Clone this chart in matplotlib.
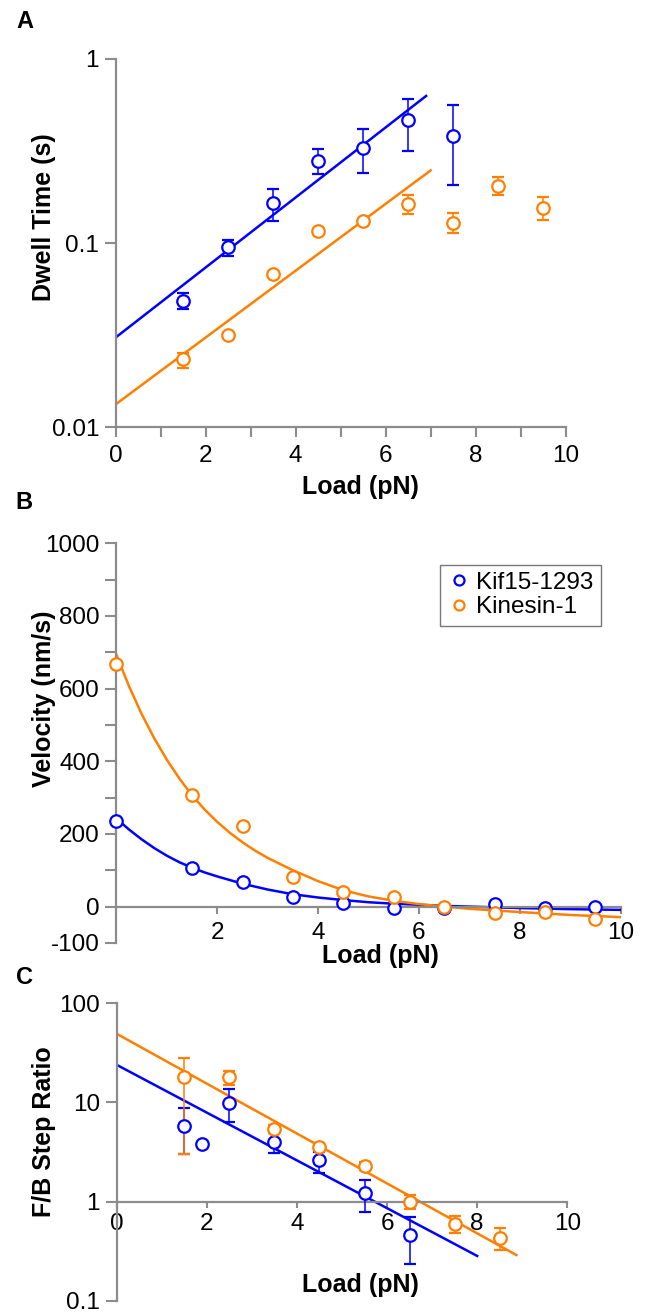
import numpy as np
import matplotlib
matplotlib.use("Agg")
import matplotlib.pyplot as plt
from matplotlib.ticker import FixedLocator, FuncFormatter, NullLocator

plt.rcParams["font.family"] = ["Liberation Sans", "DejaVu Sans"]

nan = np.nan
BLUE = "#0000ff"
ORANGE = "#ff7f00"
GREY = "#8c8c8c"

# --- A: dwell time vs load
kif15_load_a = [1.5, 2.5, 3.5, 4.5, 5.5, 6.5, 7.5]
kif15_dwell = [0.0487, 0.0949, 0.164, 0.279, 0.330, 0.466, 0.383]
kif15_dwell_lo = [0.0437, 0.0855, 0.1325, 0.238, 0.239, 0.318, 0.207]
kif15_dwell_hi = [0.0538, 0.104, 0.196, 0.324, 0.417, 0.607, 0.562]
kin1_load_a = [1.5, 2.5, 3.5, 4.5, 5.5, 6.5, 7.5, 8.5, 9.5]
kin1_dwell = [0.0233, 0.0317, 0.0677, 0.1164, 0.131, 0.1625, 0.129, 0.204, 0.155]
kin1_dwell_lo = [0.0210, nan, nan, nan, nan, 0.144, 0.113, 0.183, 0.134]
kin1_dwell_hi = [0.0252, nan, nan, nan, nan, 0.183, 0.145, 0.229, 0.178]
kif15_dwell_fit_x = [0, 6.9]
kif15_dwell_fit_y = [0.0307, 0.63]
kin1_dwell_fit_x = [0, 7.0]
kin1_dwell_fit_y = [0.0133, 0.248]

# --- B: velocity vs load
load_b = [0, 1.5, 2.5, 3.5, 4.5, 5.5, 6.5, 7.5, 8.5, 9.5]
kif15_vel = [237, 107, 69, 27.5, 11, -3, -3, 6, -4.5, -2]
kin1_vel = [667, 307, 222, 82.6, 41, 26, -2, -16.5, -15, -35]
vel_curve_x = [0, 0.25, 0.5, 0.75, 1, 1.25, 1.5, 1.75, 2, 2.25, 2.5, 2.75, 3,
               3.5, 4, 4.5, 5, 5.5, 6, 6.5, 7, 8, 9, 10]
kif15_vel_curve = [242, 212, 185, 161, 140, 122, 107, 94, 83, 73, 63, 55, 47,
                   34, 25, 18, 12, 8, 5, 2, 0, -4, -7, -9]
kin1_vel_curve = [693, 606, 530, 463, 404, 352, 306, 267, 233, 203, 177, 154, 134,
                  100, 70, 45, 28, 16, 7, 0, -6, -15, -23, -29]

# --- C: forward/backward step ratio vs load
kif15_load_c = [1.5, 1.9, 2.5, 3.5, 4.5, 5.5, 6.5]
kif15_ratio = [5.8, 3.77, 9.9, 4.0, 2.6, 1.23, 0.46]
kif15_ratio_lo = [3.0, nan, 6.3, 3.06, 1.94, 0.79, 0.233]
kif15_ratio_hi = [8.8, nan, 13.6, 4.9, 3.2, 1.66, 0.695]
kin1_load_c = [1.5, 2.5, 3.5, 4.5, 5.5, 6.5, 7.5, 8.5]
kin1_ratio = [18.2, 17.9, 5.46, 3.59, 2.29, 1.0, 0.60, 0.427]
kin1_ratio_lo = [3.0, 14.9, 4.9, 3.3, 2.07, 0.85, 0.48, 0.325]
kin1_ratio_hi = [27.8, 20.9, 5.95, 3.9, 2.52, 1.17, 0.717, 0.538]
kif15_ratio_fit_x = [0, 8.0]
kif15_ratio_fit_y = [24, 0.283]
kin1_ratio_fit_x = [0, 8.87]
kin1_ratio_fit_y = [49.4, 0.289]

FS = 17.5
LABEL_FS = 18


def style_axes(ax):
    for side in ("top", "right"):
        ax.spines[side].set_visible(False)
    for side in ("left", "bottom"):
        ax.spines[side].set_color(GREY)
        ax.spines[side].set_linewidth(1.6)
    ax.tick_params(which="both", direction="out", color=GREY, width=1.5,
                   labelsize=FS, pad=4)
    ax.tick_params(axis="y", which="both", length=8)


def points(ax, x, y, lo, hi, color):
    y = np.array(y, dtype=float)
    err = [y - np.array(lo, dtype=float), np.array(hi, dtype=float) - y]
    ax.errorbar(x, y, yerr=err, fmt="o", ms=9, mew=1.6, mfc="white", mec=color,
                ecolor=color, elinewidth=1.1, capsize=4.5, capthick=1.1,
                zorder=3, clip_on=False)


def plain(v, _pos):
    return f"{v:g}"


fig = plt.figure(figsize=(6.53, 13.14), dpi=100)

# A
ax = fig.add_axes([0.1773, 0.675, 0.6888, 0.2801])
style_axes(ax)
ax.set_yscale("log")
ax.plot(kif15_dwell_fit_x, kif15_dwell_fit_y, color=BLUE, lw=1.8, zorder=2)
ax.plot(kin1_dwell_fit_x, kin1_dwell_fit_y, color=ORANGE, lw=1.8, zorder=2)
points(ax, kif15_load_a, kif15_dwell, kif15_dwell_lo, kif15_dwell_hi, BLUE)
points(ax, kin1_load_a, kin1_dwell, kin1_dwell_lo, kin1_dwell_hi, ORANGE)
ax.set_xlim(0, 10)
ax.set_ylim(0.01, 1)
ax.xaxis.set_major_locator(FixedLocator([0, 2, 4, 6, 8, 10]))
ax.xaxis.set_minor_locator(FixedLocator([1, 3, 5, 7, 9]))
ax.tick_params(axis="x", which="both", length=7, pad=6)
ax.yaxis.set_major_locator(FixedLocator([0.01, 0.1, 1]))
ax.yaxis.set_minor_locator(NullLocator())
ax.yaxis.set_major_formatter(FuncFormatter(plain))
ax.set_xlabel("Load (pN)", fontsize=LABEL_FS, fontweight="bold", va="center")
ax.xaxis.set_label_coords(0.543, -0.162)
ax.set_ylabel("Dwell Time (s)", fontsize=LABEL_FS, fontweight="bold", va="center")
ax.yaxis.set_label_coords(-0.160, 0.571)

# B
ax = fig.add_axes([0.1784, 0.2824, 0.772, 0.3041])
style_axes(ax)
ax.spines["bottom"].set_position(("data", 0))
ax.plot(vel_curve_x, kif15_vel_curve, color=BLUE, lw=1.8, zorder=2, label="_nolegend_")
ax.plot(vel_curve_x, kin1_vel_curve, color=ORANGE, lw=1.8, zorder=2, label="_nolegend_")
ax.plot(load_b, kif15_vel, "o", ms=9, mew=1.6, mfc="white", mec=BLUE,
        zorder=3, clip_on=False, label="Kif15-1293")
ax.plot(load_b, kin1_vel, "o", ms=9, mew=1.6, mfc="white", mec=ORANGE,
        zorder=3, clip_on=False, label="Kinesin-1")
ax.set_xlim(0, 10)
ax.set_ylim(-100, 1000)
ax.xaxis.set_major_locator(FixedLocator([2, 4, 6, 8, 10]))
ax.tick_params(axis="x", length=5, pad=6)
ax.yaxis.set_major_locator(FixedLocator([-100, 0, 200, 400, 600, 800, 1000]))
ax.yaxis.set_minor_locator(FixedLocator([100, 300, 500, 700, 900]))
ax.yaxis.set_major_formatter(FuncFormatter(lambda v, p: f"{int(v)}"))
ax.set_xlabel("Load (pN)", fontsize=LABEL_FS, fontweight="bold", va="center")
ax.xaxis.set_label_coords(0.523, -0.033)
ax.set_ylabel("Velocity (nm/s)", fontsize=LABEL_FS, fontweight="bold", va="center")
ax.yaxis.set_label_coords(-0.1444, 0.610)
leg = ax.legend(loc="upper right", bbox_to_anchor=(0.961, 0.947), borderaxespad=0,
                fontsize=FS, frameon=True, fancybox=False, handletextpad=0.2,
                handlelength=1.0, borderpad=0.3, labelspacing=0.1, markerscale=0.8)
leg.get_frame().set_edgecolor("#555555")
leg.get_frame().set_linewidth(1.0)

# C
ax = fig.add_axes([0.1786, 0.0101, 0.6902, 0.2263])
style_axes(ax)
ax.set_yscale("log")
ax.spines["bottom"].set_position(("data", 1))
ax.plot(kif15_ratio_fit_x, kif15_ratio_fit_y, color=BLUE, lw=1.8, zorder=2)
ax.plot(kin1_ratio_fit_x, kin1_ratio_fit_y, color=ORANGE, lw=1.8, zorder=2)
points(ax, kif15_load_c, kif15_ratio, kif15_ratio_lo, kif15_ratio_hi, BLUE)
points(ax, kin1_load_c, kin1_ratio, kin1_ratio_lo, kin1_ratio_hi, ORANGE)
ax.set_xlim(0, 10)
ax.set_ylim(0.1, 100)
ax.xaxis.set_major_locator(FixedLocator([0, 2, 4, 6, 8, 10]))
ax.tick_params(axis="x", length=4, pad=4)
ax.yaxis.set_major_locator(FixedLocator([0.1, 1, 10, 100]))
ax.yaxis.set_minor_locator(NullLocator())
ax.yaxis.set_major_formatter(FuncFormatter(plain))
ax.set_xlabel("Load (pN)", fontsize=LABEL_FS, fontweight="bold", va="center")
ax.xaxis.set_label_coords(0.542, 0.0528)
ax.set_ylabel("F/B Step Ratio", fontsize=LABEL_FS, fontweight="bold", va="center")
ax.yaxis.set_label_coords(-0.1617, 0.568)

for letter, (px, py) in {"A": (25, 22), "B": (24, 503), "C": (25, 977)}.items():
    fig.text(px / 653, 1 - py / 1314, letter, fontsize=17, fontweight="bold",
             ha="center", va="center")

fig.savefig("out.png", dpi=100)
